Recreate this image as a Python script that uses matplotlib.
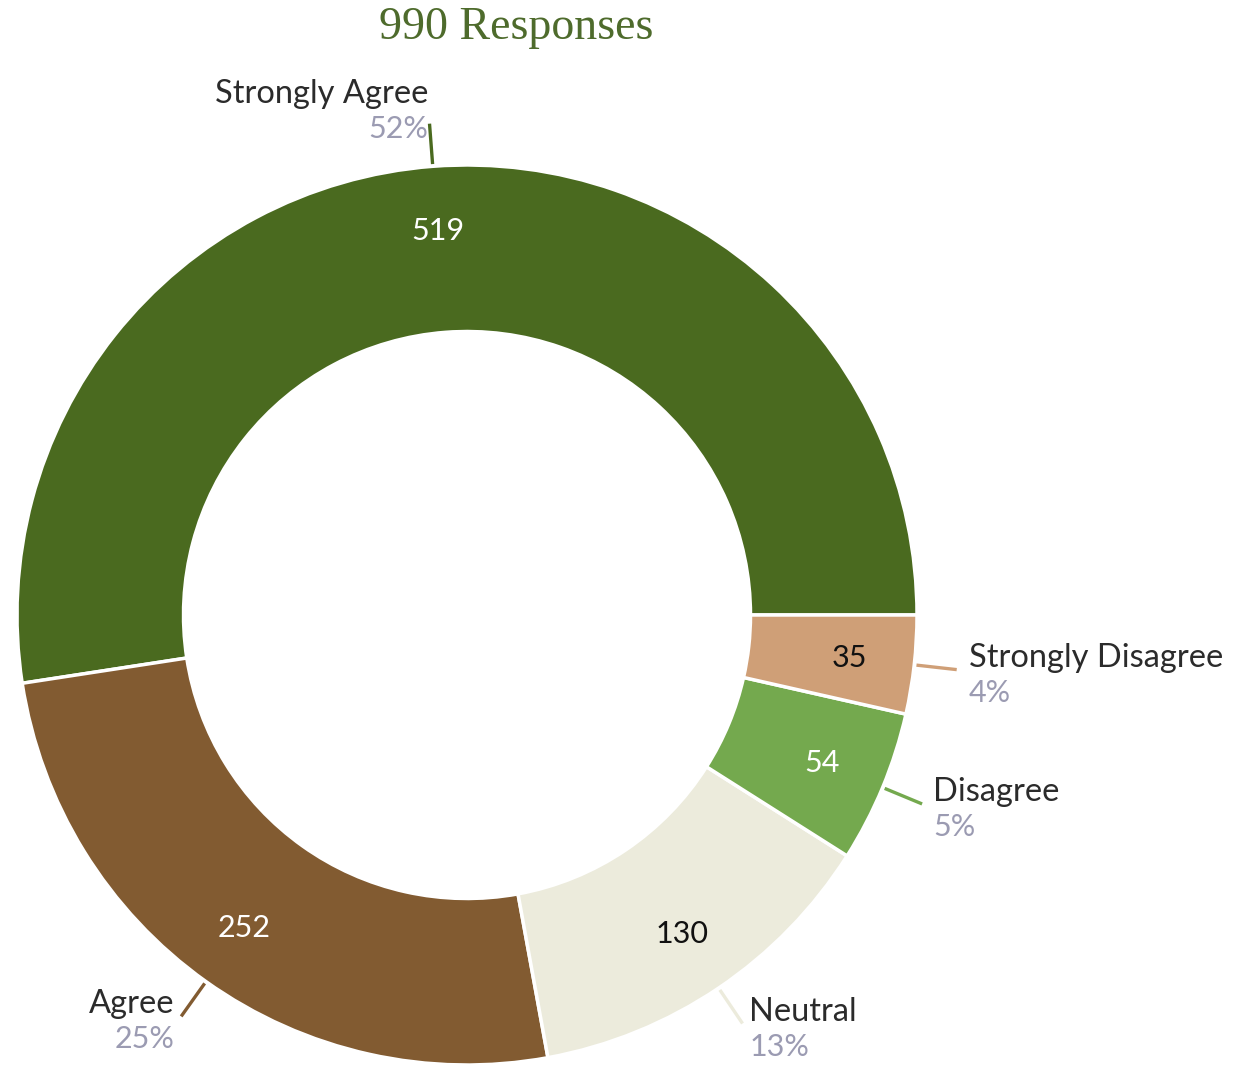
import numpy as np
import matplotlib.pyplot as plt

# survey answers, counted
labels = ['Strongly Agree', 'Agree', 'Neutral', 'Disagree', 'Strongly Disagree']
counts = [519, 252, 130, 54, 35]
colors = ['#4a6a1f', '#825b31', '#ecebdc', '#74a94e', '#cf9f77']
value_colors = ['white', 'white', '#111111', 'white', '#111111']

total = sum(counts)
px = 1 / 450.0   # one pixel in data units (outer radius = 450 px)

plt.rcParams['font.family'] = ['Lato', 'DejaVu Sans']

fig = plt.figure(figsize=(12.49, 10.65), dpi=100)
ax = fig.add_axes([0, 0, 1, 1])

wedges, _ = ax.pie(counts, colors=colors, startangle=0, counterclock=True, radius=1,
                   wedgeprops=dict(width=0.37, edgecolor='white', linewidth=2.5))
ax.set_xlim(-467 * px, (1249 - 467) * px)
ax.set_ylim(-450 * px, 615 * px)
ax.axis('off')

for w, name, n, c, vc in zip(wedges, labels, counts, colors, value_colors):
    mid = np.deg2rad((w.theta1 + w.theta2) / 2)
    ca, sa = np.cos(mid), np.sin(mid)

    # count inside the ring
    ax.text(0.855 * ca, 0.855 * sa, str(n), ha='center', va='center',
            fontsize=22, color=vc)

    # short leader line out of the wedge
    ax.plot([1.005 * ca, 1.095 * ca], [1.005 * sa, 1.095 * sa], color=c,
            lw=2.4, solid_capstyle='butt')
    ex, ey = 1.095 * ca, 1.095 * sa
    ha = 'left' if ca > 0 else 'right'
    tx = ex + 12 * ca * px
    ty = ey + 18 * max(sa, 0) * px
    ax.text(tx, ty + 3 * px, name, ha=ha, va='baseline', fontsize=23.5, color='#2b2b2b')
    ax.text(tx, ty - 9 * px, f'{round(100 * n / total)}%', ha=ha, va='top',
            fontsize=22, color='#9b9bb2')

fig.text(516 / 1249, 1 - 28 / 1065, f'{total} Responses', ha='center', va='center',
         fontsize=33, color='#4e6b2c', family='Liberation Serif')

plt.savefig('out.png', dpi=100)
